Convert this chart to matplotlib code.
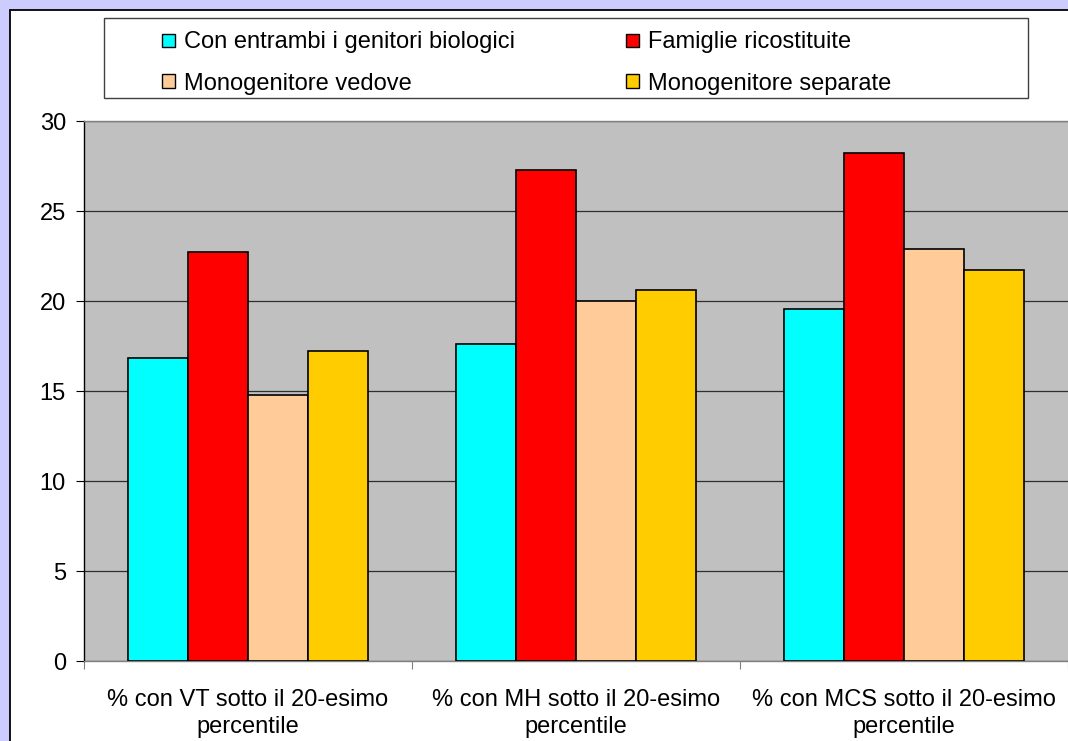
import matplotlib
matplotlib.use("Agg")
import matplotlib.pyplot as plt
from matplotlib.patches import Rectangle
import numpy as np

categories = [
    "% con VT sotto il 20-esimo\npercentile",
    "% con MH sotto il 20-esimo\npercentile",
    "% con MCS sotto il 20-esimo\npercentile",
]
series_names = [
    "Con entrambi i genitori biologici",
    "Famiglie ricostituite",
    "Monogenitore vedove",
    "Monogenitore separate",
]
entrambi = [16.85, 17.6, 19.55]
ricostituite = [22.7, 27.3, 28.2]
vedove = [14.8, 20.0, 22.9]
separate = [17.2, 20.6, 21.7]
values = [entrambi, ricostituite, vedove, separate]
colors = ["#00FFFF", "#FF0000", "#FFCC99", "#FFCC00"]
yticks = [0, 5, 10, 15, 20, 25, 30]

W, H = 1068, 741
plt.rcParams["font.family"] = ["Liberation Sans", "DejaVu Sans"]
FS = 17

fig = plt.figure(figsize=(W / 100, H / 100), dpi=100, facecolor="#CCCCFF")


def fx(px):
    return px / W


def fy(py):
    return 1 - py / H


# white chart area with black frame
fig.patches.append(Rectangle((fx(10), -0.1), 1.2, fy(10) + 0.1,
                             transform=fig.transFigure, facecolor="white",
                             edgecolor="black", linewidth=1.3, zorder=-5))

left, right, top, bottom = 84, 1068, 121, 661
group_px = 329
ax = fig.add_axes([fx(left), fy(bottom), fx(right - left), (bottom - top) / H])
ax.set_zorder(1)
ax.set_facecolor("#C0C0C0")
ax.set_xlim(-0.5, -0.5 + (right - left) / group_px)
ax.set_ylim(0, 30)

n = len(values)
bw = 0.183
x = np.arange(len(categories))
for i, (vals, c) in enumerate(zip(values, colors)):
    ax.bar(x + (i - (n - 1) / 2) * bw, vals, width=bw, color=c,
           edgecolor="black", linewidth=1.2, zorder=3)

ax.set_yticks(yticks)
ax.set_yticklabels([str(t) for t in yticks], fontsize=FS)
ax.yaxis.grid(True, color="#303030", linewidth=0.9, zorder=1)
ax.set_axisbelow(True)

ax.set_xticks(np.arange(-0.5, len(categories), 1.0))
ax.set_xticklabels([])
ax.set_xticks(x, minor=True)
ax.set_xticklabels(categories, minor=True, fontsize=FS, linespacing=1.32)
ax.tick_params(axis="x", which="minor", length=0, pad=20)
ax.tick_params(axis="x", which="major", length=6, color="#808080", direction="out")
ax.tick_params(axis="y", length=6, color="black", direction="out", pad=7)

ax.spines["right"].set_visible(False)
ax.spines["top"].set_color("#808080")
ax.spines["bottom"].set_color("#808080")
ax.spines["left"].set_color("black")
for s in ax.spines.values():
    s.set_linewidth(1.0)

# legend box
lx0, ly0, lx1, ly1 = 104, 18, 1028, 98
fig.patches.append(Rectangle((fx(lx0), fy(ly1)), fx(lx1 - lx0), (ly1 - ly0) / H,
                             transform=fig.transFigure, facecolor="white",
                             edgecolor="#404040", linewidth=1.0, zorder=2))
col_x = [162, 626]
row_mark = [40, 81]
row_base = [48, 90]
for k, (name, c) in enumerate(zip(series_names, colors)):
    cx = col_x[k % 2]
    cy = row_mark[k // 2]
    sq = 13
    fig.patches.append(Rectangle((fx(cx), fy(cy + sq / 2)), fx(sq), sq / H,
                                 transform=fig.transFigure, facecolor=c,
                                 edgecolor="black", linewidth=1.0, zorder=3))
    fig.text(fx(cx + 22), fy(row_base[k // 2]), name, fontsize=FS,
             va="baseline", ha="left", zorder=4)

fig.savefig("out.png", dpi=100, facecolor=fig.get_facecolor())
